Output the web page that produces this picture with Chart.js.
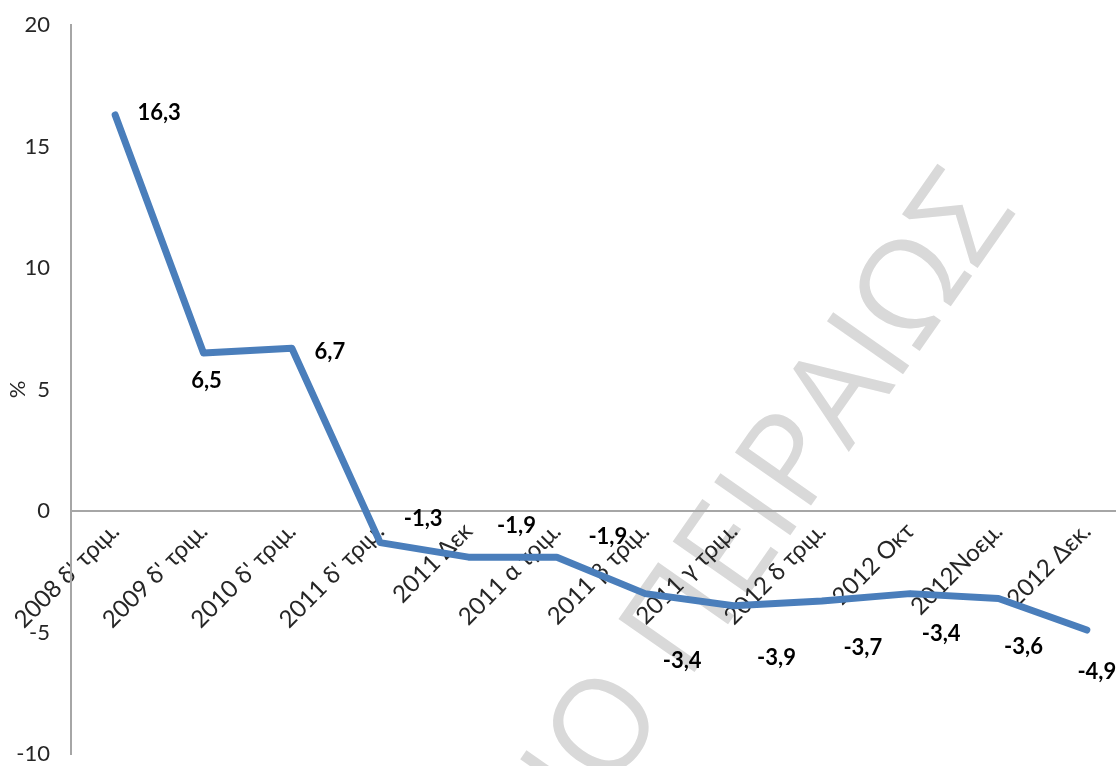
<!DOCTYPE html>
<html>
<head>
<meta charset="utf-8">
<script src="https://cdn.jsdelivr.net/npm/chart.js@4.4.1/dist/chart.umd.min.js"></script>
<style>
  html, body { margin: 0; padding: 0; background: #fff; overflow: hidden; }
  #wrap { width: 1116px; height: 766px; overflow: hidden; }
</style>
</head>
<body>
<div id="wrap"><canvas id="chart" width="1140" height="766"></canvas></div>
<script>
// Data
const periods = [
  "2008 δ' τριμ.", "2009 δ' τριμ.", "2010 δ' τριμ.", "2011 δ' τριμ.",
  '2011 Δεκ', '2011 α τριμ.', '2011 β τριμ.', '2011 γ τριμ.',
  '2012 δ τριμ.', '2012 Οκτ', '2012Νοεμ.', '2012 Δεκ.'
];
const changes = [16.3, 6.5, 6.7, -1.3, -1.9, -1.9, -3.4, -3.9, -3.7, -3.4, -3.6, -4.9];
const yTicks = [-10, -5, 0, 5, 10, 15, 20];

// where each value label sits relative to its point (px)
const labelOffsets = [
  [44, -2], [3, 28], [38, 4], [43, -24], [48, -31], [51, -20],
  [37, 67], [43, 52], [41, 47], [31, 40], [25, 48], [10, 42]
];

const watermark = {
  id: 'watermark',
  beforeDraw(chart) {
    const ctx = chart.ctx;
    const text = 'ΠΑΝΕΠΙΣΤΗΜΙΟ ΠΕΙΡΑΙΩΣ';
    const size = 130;
    ctx.save();
    ctx.font = '500 ' + size + 'px "Open Sans"';
    const wLast = ctx.measureText('Σ').width;
    ctx.translate(958, 215);
    ctx.rotate(-55 * Math.PI / 180);
    ctx.fillStyle = '#d9d9d9';
    ctx.textAlign = 'right';
    ctx.textBaseline = 'alphabetic';
    ctx.fillText(text, wLast / 2, size * 0.714 / 2);
    ctx.restore();
  }
};

const valueLabels = {
  id: 'valueLabels',
  afterDatasetsDraw(chart) {
    const ctx = chart.ctx;
    const meta = chart.getDatasetMeta(0);
    ctx.save();
    ctx.font = 'bold 22px Lato';
    ctx.fillStyle = '#000';
    ctx.textAlign = 'center';
    ctx.textBaseline = 'middle';
    meta.data.forEach((pt, i) => {
      const txt = String(changes[i]).replace('.', ',');
      ctx.fillText(txt, pt.x + labelOffsets[i][0], pt.y + labelOffsets[i][1]);
    });
    ctx.restore();
  }
};

new Chart(document.getElementById('chart'), {
  type: 'line',
  data: {
    labels: periods,
    datasets: [{
      data: changes,
      borderColor: '#4a7ebb',
      borderWidth: 7,
      pointRadius: 0,
      tension: 0,
      borderCapStyle: 'round',
      borderJoinStyle: 'round',
    }],
  },
  options: {
    responsive: false,
    animation: false,
    layout: { padding: { top: 25, bottom: 12, left: 0, right: 9 } },
    plugins: {
      legend: { display: false },
      tooltip: { enabled: false },
    },
    scales: {
      x: {
        type: 'category',
        position: { y: 0 },
        offset: true,
        grid: { display: false, drawTicks: false },
        border: { display: true, color: '#a6a6a6', width: 2 },
        ticks: {
          autoSkip: false,
          minRotation: 45,
          maxRotation: 45,
          padding: 6,
          color: '#262626',
          font: { family: 'Lato', size: 24 },
        },
        afterFit(scale) {
          scale.height = 0;
          scale.paddingLeft = 0;
          scale.paddingRight = 0;
          scale.paddingTop = 0;
          scale.paddingBottom = 0;
        },
      },
      y: {
        min: -10,
        max: 20,
        grid: { display: false, drawTicks: false },
        border: { display: true, color: '#a6a6a6', width: 2 },
        afterBuildTicks(scale) {
          scale.ticks = yTicks.map(v => ({ value: v }));
        },
        ticks: {
          padding: 21,
          color: '#262626',
          font: { family: 'Lato', size: 22 },
        },
        title: {
          display: true,
          text: '%',
          color: '#262626',
          font: { family: 'Lato', size: 22 },
          padding: { top: 5, bottom: 4 },
        },
        afterFit(scale) {
          scale.width = 71;
          scale.paddingTop = 0;
          scale.paddingBottom = 0;
        },
      },
    },
  },
  plugins: [watermark, valueLabels],
});
</script>
</body>
</html>
